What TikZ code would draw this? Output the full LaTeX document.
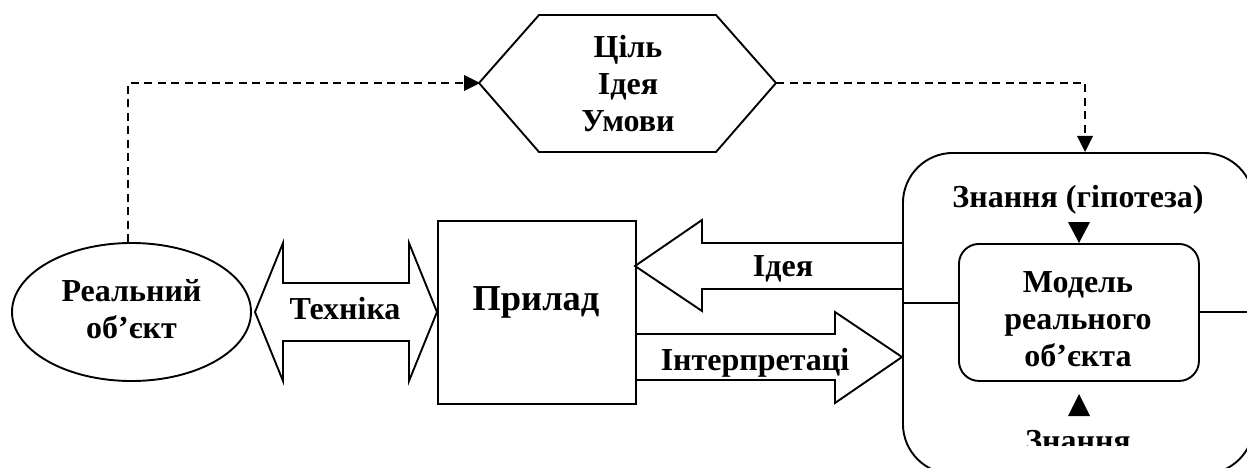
\documentclass[tikz,border=0pt]{standalone}
\usepackage{fontspec}
\setmainfont{Liberation Serif}
\usetikzlibrary{shapes.geometric}
\tikzset{
  x=1pt,y=-1pt,
  shapeline/.style={draw=black,line width=1.9pt,line join=miter},
  lbl/.style={font=\fontsize{32}{37}\selectfont\bfseries,align=center,inner sep=0pt,anchor=center},
  biglbl/.style={font=\fontsize{36.5}{40}\selectfont\bfseries,align=center,inner sep=0pt,anchor=center},
  dashline/.style={draw=black,line width=1.9pt,dash pattern=on 8pt off 5.5pt},
  tri/.style={fill=black,draw=none}
}
\begin{document}
\begin{tikzpicture}
\useasboundingbox (0,0) rectangle (1247,468);
\begin{scope}
\clip (0,0) rectangle (1247,468);
\node[shapeline,rounded corners=50pt,minimum width=351pt,minimum height=321pt,inner sep=0pt,anchor=north west] (outer) at (902,152) {};
\end{scope}
\node[shapeline,ellipse,minimum width=239pt,minimum height=138pt,inner sep=0pt] (obj) at (131.5,312) {};
\node[lbl] (objt) at (131.5,309.5) {Реальний\\об’єкт};
\node[shapeline,rectangle,minimum width=198pt,minimum height=183pt,inner sep=0pt,anchor=north west] (dev) at (437,220) {};
\node[biglbl] (devt) at (536,302) {Прилад};
\node[shapeline,rounded corners=20pt,minimum width=240pt,minimum height=137pt,inner sep=0pt,anchor=north west] (model) at (958,243) {};
\node[lbl] (modelt) at (1078,319) {Модель\\реального\\об’єкта};
\path[shapeline] (479,83) -- (539,15) -- (716,15) -- (776,83) -- (716,152) -- (539,152) -- cycle;
\coordinate (hexl) at (479,83);
\coordinate (hexr) at (776,83);
\node[lbl] (goal) at (628,84) {Ціль\\Ідея\\Умови};
\path[shapeline] (255,312) -- (283,243) -- (283,283) -- (409,283) -- (409,243) -- (437,312) -- (409,381) -- (409,341) -- (283,341) -- (283,381) -- cycle;
\node[lbl] (tech) at (345,309) {Техніка};
\path[shapeline] (902,243) -- (702,243) -- (702,220) -- (635,266) -- (702,311) -- (702,289) -- (902,289);
\node[lbl] (idea) at (783,269) {Ідея};
\path[shapeline] (635,334) -- (835,334) -- (835,312) -- (902,357) -- (835,403) -- (835,380) -- (635,380);
\node[lbl] (inter) at (755,363) {Інтерпретаці};
\node[lbl] (know) at (1078,200) {Знання (гіпотеза)};
\begin{scope}
\clip (902,400) rectangle (1247,445);
\node[lbl] (know2) at (1078,441) {Знання};
\end{scope}
\path[tri] (1068,222) -- (1090,222) -- (1079,243) -- cycle;
\path[tri] (1068,416) -- (1090,416) -- (1079,394) -- cycle;
\draw[shapeline] (902,303) -- (model.west |- 0,303);
\draw[shapeline] (model.east |- 0,312) -- (1247,312);
\draw[dashline] (obj.north -| 128,0) -- (128,83) -- (464,83);
\path[tri] (464,75) -- (480,83) -- (464,91) -- cycle;
\draw[dashline] (hexr) -- (1085,83) -- (1085,136);
\path[tri] (1077,136) -- (1093,136) -- (1085,152) -- cycle;
\end{tikzpicture}
\end{document}
